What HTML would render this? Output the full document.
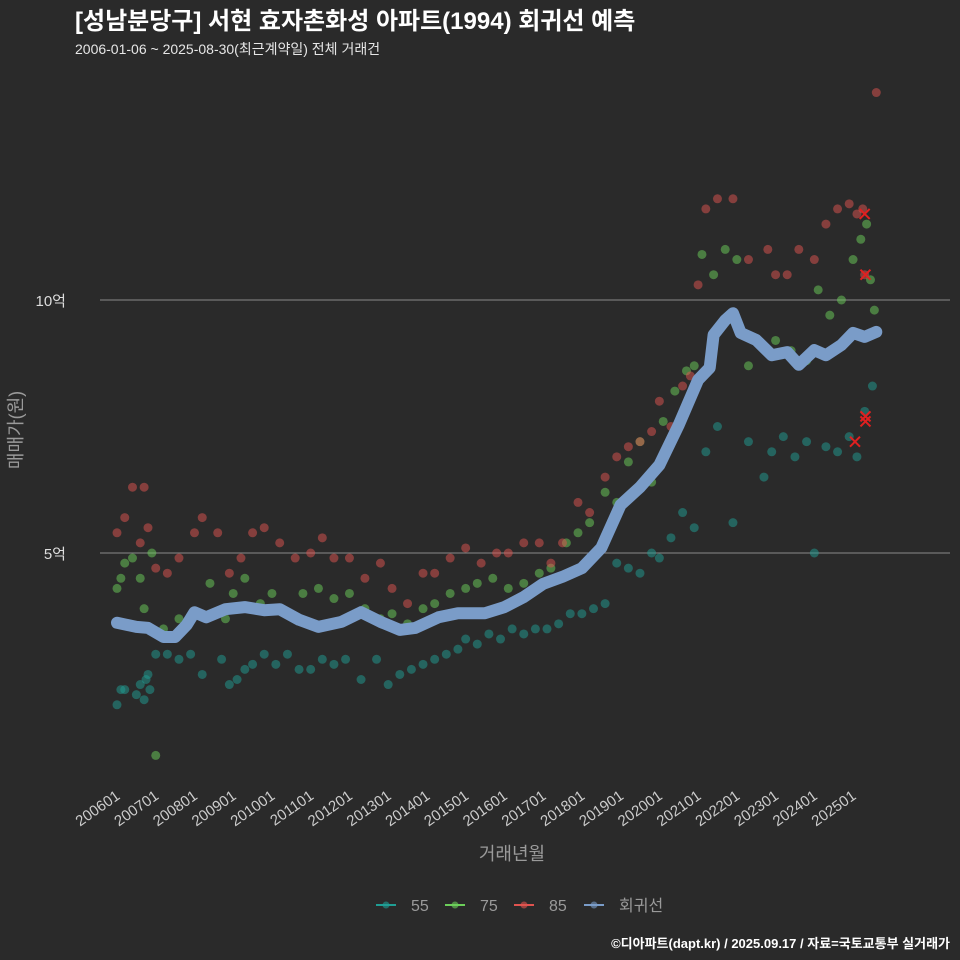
<!DOCTYPE html>
<html><head><meta charset="utf-8">
<style>
html,body{margin:0;padding:0;background:#2a2a2a;overflow:hidden;width:960px;height:960px;}
svg{display:block;}
svg text{font-family:"Liberation Sans","Noto Sans CJK KR",sans-serif;}
</style></head>
<body>
<svg id="chart" width="960" height="960" viewBox="0 0 960 960" xmlns="http://www.w3.org/2000/svg">
<rect width="960" height="960" fill="#2a2a2a"/>
<text x="75" y="29" fill="#ffffff" font-size="24" font-weight="bold">[성남분당구] 서현 효자촌화성 아파트(1994) 회귀선 예측</text>
<text x="75" y="54" fill="#e6e6e6" font-size="14">2006-01-06 ~ 2025-08-30(최근계약일) 전체 거래건</text>
<g id="grid"></g>
<g id="xaxis"></g>
<g id="pts"></g>
<g id="reg"></g>
<g id="marks"></g>
<text x="512" y="860" fill="#9a9a9a" font-size="18" text-anchor="middle">거래년월</text>
<text transform="translate(22,430) rotate(-90)" fill="#9a9a9a" font-size="18" text-anchor="middle">매매가(원)</text>
<g id="legend"></g>
<text x="950" y="948" fill="#ffffff" font-size="13" font-weight="bold" text-anchor="end">©디아파트(dapt.kr) / 2025.09.17 / 자료=국토교통부 실거래가</text>
</svg>
<script>
const yTickValues=[5,10];
const yTickLabels=['5억','10억'];
const xTickYears=[2006,2007,2008,2009,2010,2011,2012,2013,2014,2015,2016,2017,2018,2019,2020,2021,2022,2023,2024,2025];
const xTickLabels=['200601','200701','200801','200901','201001','201101','201201','201301','201401','201501','201601','201701','201801','201901','202001','202101','202201','202301','202401','202501'];
const regT=[2006.0,2006.5,2006.8,2007.2,2007.5,2007.8,2008.0,2008.3,2008.8,2009.3,2009.8,2010.2,2010.7,2011.2,2011.8,2012.3,2012.8,2013.3,2013.7,2014.3,2014.8,2015.5,2016.0,2016.5,2017.0,2017.5,2018.0,2018.5,2019.0,2019.5,2020.0,2020.5,2021.0,2021.3,2021.4,2021.7,2021.9,2022.1,2022.5,2022.9,2023.3,2023.6,2024.0,2024.3,2024.7,2025.0,2025.3,2025.6];
const regV=[3.62,3.54,3.52,3.34,3.34,3.58,3.83,3.73,3.89,3.93,3.87,3.89,3.68,3.54,3.64,3.83,3.64,3.48,3.52,3.73,3.81,3.81,3.93,4.13,4.39,4.53,4.70,5.10,5.95,6.30,6.74,7.53,8.42,8.66,9.31,9.60,9.74,9.35,9.21,8.91,8.97,8.72,9.01,8.91,9.11,9.35,9.27,9.37];
const t55=[2006.0,2006.1,2006.2,2006.5,2006.6,2006.7,2006.75,2006.8,2006.85,2007.0,2007.3,2007.6,2007.9,2008.2,2008.7,2008.9,2009.1,2009.3,2009.5,2009.8,2010.1,2010.4,2010.7,2011.0,2011.3,2011.6,2011.9,2012.3,2012.7,2013.0,2013.3,2013.6,2013.9,2014.2,2014.5,2014.8,2015.0,2015.3,2015.6,2015.9,2016.2,2016.5,2016.8,2017.1,2017.4,2017.7,2018.0,2018.3,2018.6,2018.9,2019.2,2019.5,2019.8,2020.0,2020.3,2020.6,2020.9,2021.2,2021.5,2021.9,2022.3,2022.7,2022.9,2023.2,2023.5,2023.8,2024.0,2024.3,2024.6,2024.9,2025.1,2025.3,2025.5];
const v55=[2.0,2.3,2.3,2.2,2.4,2.1,2.5,2.6,2.3,3.0,3.0,2.9,3.0,2.6,2.9,2.4,2.5,2.7,2.8,3.0,2.8,3.0,2.7,2.7,2.9,2.8,2.9,2.5,2.9,2.4,2.6,2.7,2.8,2.9,3.0,3.1,3.3,3.2,3.4,3.3,3.5,3.4,3.5,3.5,3.6,3.8,3.8,3.9,4.0,4.8,4.7,4.6,5.0,4.9,5.3,5.8,5.5,7.0,7.5,5.6,7.2,6.5,7.0,7.3,6.9,7.2,5.0,7.1,7.0,7.3,6.9,7.8,8.3];
const t75=[2006.0,2006.1,2006.2,2006.4,2006.6,2006.7,2006.9,2007.0,2007.2,2007.6,2008.0,2008.4,2008.8,2009.0,2009.3,2009.7,2010.0,2010.4,2010.8,2011.2,2011.6,2012.0,2012.4,2012.8,2013.1,2013.5,2013.9,2014.2,2014.6,2015.0,2015.3,2015.7,2016.1,2016.5,2016.9,2017.2,2017.6,2017.9,2018.2,2018.6,2018.9,2019.2,2019.5,2019.8,2020.1,2020.4,2020.7,2020.9,2021.1,2021.4,2021.7,2022.0,2022.3,2023.0,2023.4,2023.8,2024.1,2024.4,2024.7,2025.0,2025.2,2025.35,2025.45,2025.55];
const v75=[4.3,4.5,4.8,4.9,4.5,3.9,5.0,1.0,3.5,3.7,3.8,4.4,3.7,4.2,4.5,4.0,4.2,3.8,4.2,4.3,4.1,4.2,3.9,3.7,3.8,3.6,3.9,4.0,4.2,4.3,4.4,4.5,4.3,4.4,4.6,4.7,5.2,5.4,5.6,6.2,6.0,6.8,7.2,6.4,7.6,8.2,8.6,8.7,10.9,10.5,11.0,10.8,8.7,9.2,9.0,8.8,10.2,9.7,10.0,10.8,11.2,11.5,10.4,9.8];
const t85=[2006.0,2006.2,2006.4,2006.6,2006.7,2006.8,2007.0,2007.3,2007.6,2008.0,2008.2,2008.6,2008.9,2009.2,2009.5,2009.8,2010.2,2010.6,2011.0,2011.3,2011.6,2012.0,2012.4,2012.8,2013.1,2013.5,2013.9,2014.2,2014.6,2015.0,2015.4,2015.8,2016.1,2016.5,2016.9,2017.2,2017.5,2017.9,2018.2,2018.6,2018.9,2019.2,2019.5,2019.8,2020.0,2020.3,2020.6,2020.8,2021.0,2021.2,2021.5,2021.9,2022.3,2022.8,2023.0,2023.3,2023.6,2024.0,2024.3,2024.6,2024.9,2025.1,2025.25,2025.3,2025.6];
const v85=[5.4,5.7,6.3,5.2,6.3,5.5,4.7,4.6,4.9,5.4,5.7,5.4,4.6,4.9,5.4,5.5,5.2,4.9,5.0,5.3,4.9,4.9,4.5,4.8,4.3,4.0,4.6,4.6,4.9,5.1,4.8,5.0,5.0,5.2,5.2,4.8,5.2,6.0,5.8,6.5,6.9,7.1,7.2,7.4,8.0,7.5,8.3,8.5,10.3,11.8,12.0,12.0,10.8,11.0,10.5,10.5,11.0,10.8,11.5,11.8,11.9,11.7,11.8,10.5,14.1];
const flagT=[2025.05,2025.3,2025.32,2025.32,2025.32];
const flagV=[7.2,11.7,10.5,7.7,7.6];

const NS='http://www.w3.org/2000/svg';
function X(t){return 117+(t-2006)*38.74;}
function Y(v){return 806-50.6*v;}
function mk(tag,attrs,parent){const e=document.createElementNS(NS,tag);for(const k in attrs)e.setAttribute(k,attrs[k]);parent.appendChild(e);return e;}
const grid=document.getElementById('grid');
yTickValues.forEach((v,i)=>{
  const l=mk('line',{x1:100,x2:950,y1:Y(v),y2:Y(v),stroke:'#8a8a8a','stroke-width':1},grid);
  
  
  const t=mk('text',{x:66,y:Y(v)+6,fill:'#dddddd','font-size':15,'text-anchor':'end'},grid);
  t.textContent=yTickLabels[i];
  
  
});
const xa=document.getElementById('xaxis');
xTickYears.forEach((yr,i)=>{
  const x=X(yr);
  const t=mk('text',{transform:`translate(${x+4},${798}) rotate(-35)`,fill:'#cccccc','font-size':15,'text-anchor':'end'},xa);
  t.textContent=xTickLabels[i];
  
  
});
const pts=document.getElementById('pts');
function series(ts,vs,color,name){
  ts.forEach((t,i)=>{
    const c=mk('circle',{cx:X(t),cy:Y(vs[i]),r:4.5,fill:color,'fill-opacity':0.5},pts);
    
    
  });
}
series(t55,v55,'#1f9e94','point-55');
series(t75,v75,'#6ccf5a','point-75');
series(t85,v85,'#e0534f','point-85');
const reg=document.getElementById('reg');
const d=regT.map((t,i)=>(i?'L':'M')+X(t).toFixed(1)+','+Y(regV[i]).toFixed(1)).join(' ');
const p=mk('path',{d:d,fill:'none',stroke:'#7a9cc8','stroke-width':12,'stroke-linejoin':'round','stroke-linecap':'round'},reg);


const marks=document.getElementById('marks');
flagT.forEach((t,i)=>{
  const x=X(t),y=Y(flagV[i]);
  const m=mk('path',{d:`M${x-5},${y-5}L${x+5},${y+5}M${x+5},${y-5}L${x-5},${y+5}`,stroke:'#e02020','stroke-width':2},marks);
  
  
});
const lg=document.getElementById('legend');
const legNames=['55','75','85','회귀선'];
const legColors=['#1f9e94','#6ccf5a','#e0534f','#7a9cc8'];
const legX=[376,445,514,584];
legNames.forEach((n,i)=>{
  const g=mk('g',{},lg);
  
  
  mk('line',{x1:legX[i],x2:legX[i]+20,y1:905,y2:905,stroke:legColors[i],'stroke-width':2},g);
  mk('circle',{cx:legX[i]+10,cy:905,r:3.5,fill:legColors[i],'fill-opacity':0.6},g);
  const t=mk('text',{x:legX[i]+35,y:911,fill:'#9a9a9a','font-size':16},g);
  t.textContent=n;
});
</script>
</body></html>
